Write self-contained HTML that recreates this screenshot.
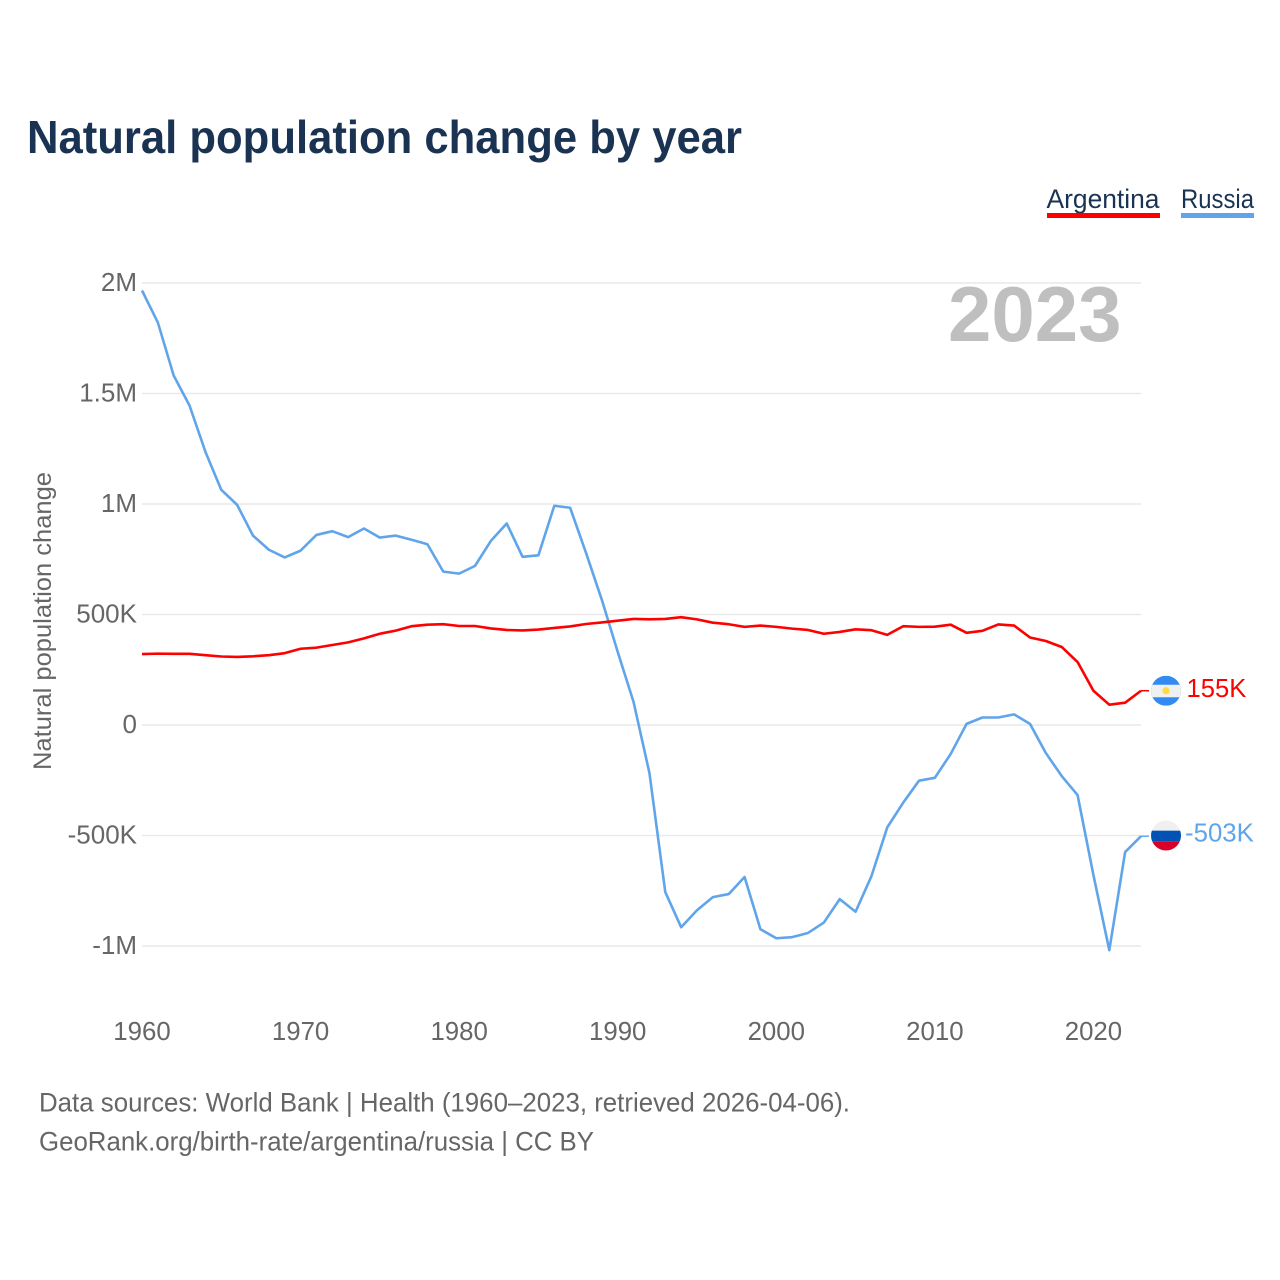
<!DOCTYPE html>
<html lang="en">
<head>
<meta charset="utf-8">
<title>Natural population change by year</title>
<style>
html,body{margin:0;padding:0;background:#fff;width:1280px;height:1280px;overflow:hidden}
svg{display:block;font-family:"Liberation Sans",sans-serif}
</style>
</head>
<body>
<svg id="chart" xmlns="http://www.w3.org/2000/svg" width="1280" height="1280" viewBox="0 0 1280 1280">
  <defs>
    <clipPath id="clip-ar"><circle id="clip-ar-c" cx="1166" cy="690" r="15"/></clipPath>
    <clipPath id="clip-ru"><circle id="clip-ru-c" cx="1166" cy="835" r="15"/></clipPath>
  </defs>
  <text x="27" y="153" font-size="46" font-weight="700" fill="#1a3353" textLength="715" lengthAdjust="spacingAndGlyphs">Natural population change by year</text>
  <g>
    <text x="1046.5" y="208" font-size="27" fill="#1a3353" textLength="113" lengthAdjust="spacingAndGlyphs">Argentina</text>
    <rect x="1047" y="213" width="113" height="5" fill="#ff0000"/>
    <text x="1181" y="208" font-size="27" fill="#1a3353" textLength="73" lengthAdjust="spacingAndGlyphs">Russia</text>
    <rect x="1181" y="213" width="73" height="5" fill="#60a5ea"/>
  </g>
  <text transform="translate(51,770) rotate(-90)" font-size="25" fill="#666666" textLength="298" lengthAdjust="spacingAndGlyphs">Natural population change</text>
  <g id="grid"></g>
  <g id="yticks"></g>
  <g id="xticks"></g>
  <text x="948" y="341" font-size="78" font-weight="700" fill="#bfbfbf">2023</text>
  <g id="series"></g>
  <g id="ends"></g>
  <text x="39" y="1111.5" font-size="27" fill="#666666" textLength="811" lengthAdjust="spacingAndGlyphs">Data sources: World Bank | Health (1960–2023, retrieved 2026-04-06).</text>
  <text x="39" y="1150.5" font-size="27" fill="#666666" textLength="555" lengthAdjust="spacingAndGlyphs">GeoRank.org/birth-rate/argentina/russia | CC BY</text>
</svg>
<script>
const startYear = 1960;
const xTickYears = [1960, 1970, 1980, 1990, 2000, 2010, 2020];
const yTickValues = [2000, 1500, 1000, 500, 0, -500, -1000];
const yTickLabels = ["2M", "1.5M", "1M", "500K", "0", "-500K", "-1M"];
// values in thousands, one per year from 1960
const argentinaValues = [321,323,322,322,316,310,308,311,316,325,345,350,362,374,392,413,427,447,454,456,448,448,437,430,428,432,439,446,457,464,472,480,478,480,488,478,463,456,444,450,444,436,430,413,421,433,429,408,447,444,445,454,417,426,455,450,396,380,353,285,155,92,101,155];
const russiaValues = [1966,1821,1581,1445,1236,1064,996,857,793,758,789,860,877,850,889,848,857,838,818,694,685,720,833,912,761,768,992,983,779,566,331,104,-217,-756,-915,-838,-779,-765,-688,-924,-965,-960,-941,-894,-788,-845,-684,-463,-352,-252,-239,-131,5,34,34,48,5,-127,-231,-317,-679,-1019,-575,-503];

const NS = "http://www.w3.org/2000/svg";
const xScale = function (year) { return 142 + (year - 1960) * (1141 - 142) / 63; };
const yScale = function (v) { return 725 - v * (725 - 283) / 2000; };
const fmt = function (v) { return v + "K"; };
function make(tag, attrs, parent, text) {
  const el = document.createElementNS(NS, tag);
  for (const k in attrs) el.setAttribute(k, attrs[k]);
  if (text !== undefined) el.textContent = text;
  parent.appendChild(el);
  return el;
}
const grid = document.getElementById("grid");
const yticks = document.getElementById("yticks");
const xticks = document.getElementById("xticks");
const series = document.getElementById("series");
const ends = document.getElementById("ends");

yTickValues.forEach(function (v, i) {
  const line = make("line", {x1: 142, x2: 1141, y1: yScale(v), y2: yScale(v), stroke: "#e9e9e9", "stroke-width": 1.5}, grid);
  
  
  const label = make("text", {x: 137, y: yScale(v) + 8, "text-anchor": "end", "font-size": 26, fill: "#666666"}, yticks, yTickLabels[i]);
  
  
});
xTickYears.forEach(function (yr) {
  const label = make("text", {x: xScale(yr), y: 1040, "text-anchor": "middle", "font-size": 25.8, fill: "#666666"}, xticks, String(yr));
  
  
});
function linePoints(values) {
  return values.map(function (v, i) { return xScale(startYear + i).toFixed(2) + "," + yScale(v).toFixed(2); }).join(" ");
}
const russiaLine = make("polyline", {points: linePoints(russiaValues), fill: "none", stroke: "#60a5ea", "stroke-width": 2.6, "stroke-linejoin": "round"}, series);


const argentinaLine = make("polyline", {points: linePoints(argentinaValues), fill: "none", stroke: "#ff0000", "stroke-width": 2.6, "stroke-linejoin": "round"}, series);



const arLast = argentinaValues[argentinaValues.length - 1];
const ruLast = russiaValues[russiaValues.length - 1];
const arY = yScale(arLast);
const ruY = yScale(ruLast);
const lastX = xScale(startYear + argentinaValues.length - 1);

const arConn = make("line", {x1: lastX, x2: 1149, y1: arY, y2: arY, stroke: "#ff0000", "stroke-width": 1.5}, ends);


const ruConn = make("line", {x1: lastX, x2: 1149, y1: ruY, y2: ruY, stroke: "#60a5ea", "stroke-width": 1.5}, ends);



document.getElementById("clip-ar-c").setAttribute("cy", arY);
document.getElementById("clip-ru-c").setAttribute("cy", ruY - 0.7);

const arFlag = make("g", {"clip-path": "url(#clip-ar)"}, ends);


make("rect", {x: 1151, y: arY - 15, width: 30, height: 30, fill: "#338af3"}, arFlag);
make("rect", {x: 1151, y: arY - 6, width: 30, height: 12.5, fill: "#f0f0f0"}, arFlag);
make("circle", {cx: 1166, cy: arY, r: 3.6, fill: "#ffda44"}, arFlag);

const ruFlag = make("g", {"clip-path": "url(#clip-ru)"}, ends);


make("rect", {x: 1151, y: ruY - 16, width: 30, height: 30, fill: "#f0f0f0"}, ruFlag);
make("rect", {x: 1151, y: ruY - 5.5, width: 30, height: 10.6, fill: "#0052b4"}, ruFlag);
make("rect", {x: 1151, y: ruY + 5.1, width: 30, height: 10, fill: "#d80027"}, ruFlag);

const arLabel = make("text", {x: 1186.5, y: arY + 6.5, "font-size": 25.6, fill: "#ff0000"}, ends, fmt(arLast));


const ruLabel = make("text", {x: 1185, y: ruY + 5.5, "font-size": 25.8, fill: "#60a5ea"}, ends, fmt(ruLast));


</script>
</body>
</html>
